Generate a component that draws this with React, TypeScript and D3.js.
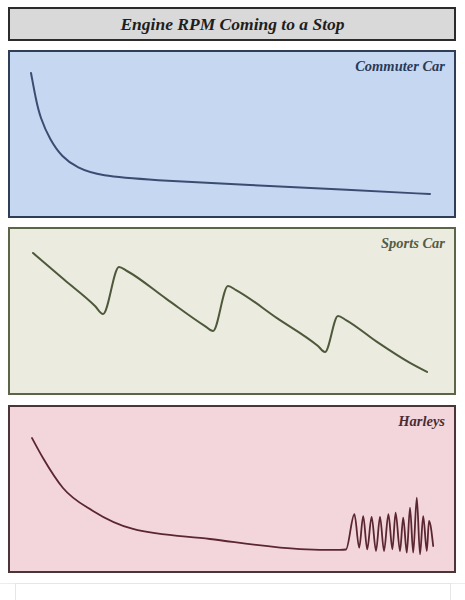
import * as d3 from 'd3'
import { FC } from 'react'

const title = 'Engine RPM Coming to a Stop'
const panelNames = ['Commuter Car', 'Sports Car', 'Harleys']

// time (0-100) and rpm (0-100, relative)
const commuterT = [0.25, 1.5, 2.5, 5, 8, 11.75, 17.5, 30, 55, 80, 100]
const commuterRpm = [90, 72, 60.7, 45.3, 34, 26.7, 21.3, 18.7, 15.3, 12, 9.3]

const sportsT = [0.75, 8.5, 16.25, 18.25, 22.25, 24.25, 34, 43.75, 45.75, 49.5, 51.5, 61.75, 72, 73.75, 77, 79, 86.75, 95, 99.25]
const sportsRpm = [88, 70.3, 52.7, 47.3, 78.7, 76, 57.6, 39.3, 36, 66, 63.3, 44.6, 26, 22, 46, 43.3, 28.7, 14.7, 8.7]

const harleyT = [0.5, 3.25, 8.25, 15.75, 25.75, 45, 67.5, 77.5, 79, 81.1, 82.3, 83.3, 84.3, 85.4, 86.5, 87.5, 88.5, 89.6, 90.6, 91.4, 92.5, 93.3, 94.2, 95, 95.8, 96.7, 97.5, 98.3, 99.2, 99.75, 100.8]
const harleyRpm = [83.3, 70, 50, 34.7, 22.7, 16, 9.3, 8.7, 9, 32.5, 10.2, 31.3, 9.1, 30.7, 8, 30.7, 8, 32.5, 9.1, 33.5, 8, 30.2, 6.9, 36.9, 6.9, 43.5, 5.8, 31.3, 8, 28, 11.3]

const series = [
  { t: commuterT, rpm: commuterRpm, curve: d3.curveBasis },
  { t: sportsT, rpm: sportsRpm, curve: d3.curveMonotoneX },
  { t: harleyT, rpm: harleyRpm, curve: d3.curveMonotoneX },
]

const panelStyles = [
  { fill: '#c6d7f2', stroke: '#2f3d55', line: '#3a4c70', text: '#2b3a55' },
  { fill: '#ebecdf', stroke: '#5b6548', line: '#4e583b', text: '#575b45' },
  { fill: '#f3d6dc', stroke: '#4b3539', line: '#5a2630', text: '#4a2c33' },
]

const W = 465
const H = 600
const boxX = 9
const boxW = 446
const panelTops = [51, 228, 406]
const panelH = 166
const font = '"Liberation Serif", "Times New Roman", serif'

const App: FC = () => {
  const x = d3.scaleLinear().domain([0, 100]).range([30, 430])
  return (
    <svg width={W} height={H} style={{ position: 'absolute', left: 0, top: 0, background: '#ffffff' }}>
      <rect x={boxX} y={8} width={boxW} height={32} fill="#d9d9d9" stroke="#2b2b2b" strokeWidth={2} />
      <text x={W / 2} y={30} textAnchor="middle" fontFamily={font} fontStyle="italic" fontWeight="bold"
        fontSize={17.5} fill="#1e1e1e">{title}</text>
      {panelTops.map((top, i) => {
        const s = panelStyles[i]
        const y = d3.scaleLinear().domain([0, 100]).range([top + 157, top + 7])
        const d = series[i]
        const line = d3.line<number>()
          .x((_, j) => x(d.t[j]))
          .y(v => y(v))
          .curve(d.curve)
        return (
          <g key={i}>
            <rect x={boxX} y={top} width={boxW} height={panelH} fill={s.fill} stroke={s.stroke} strokeWidth={2} />
            <text x={445} y={top + 19.5} textAnchor="end" fontFamily={font} fontStyle="italic" fontWeight="bold"
              fontSize={14.5} fill={s.text}>{panelNames[i]}</text>
            <path d={line(d.rpm) || ''} fill="none" stroke={s.line} strokeWidth={i === 2 ? 1.8 : 2}
              strokeLinejoin="round" strokeLinecap="round" />
          </g>
        )
      })}
      <line x1={0} x2={W} y1={583.5} y2={583.5} stroke="#ececec" strokeWidth={1} />
      <rect x={15.5} y={583.5} width={435} height={30} fill="#ffffff" stroke="#e6e6e6" strokeWidth={1} />
    </svg>
  )
}

export default App
